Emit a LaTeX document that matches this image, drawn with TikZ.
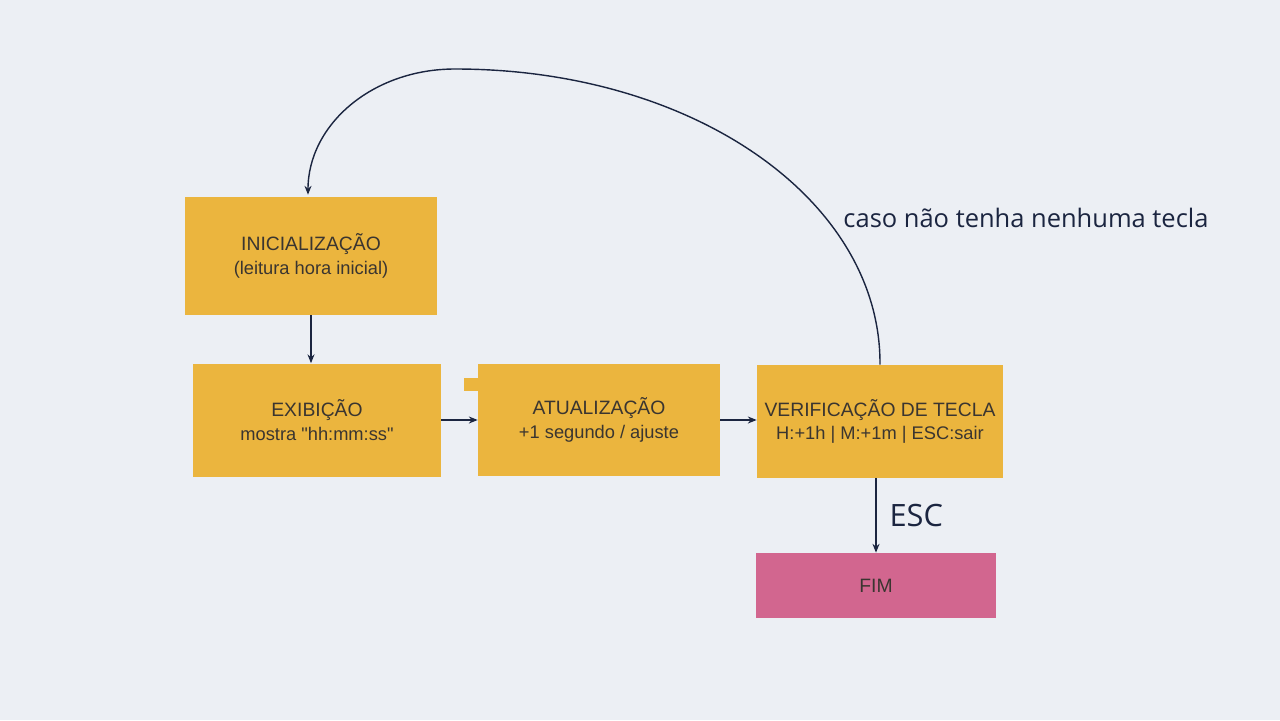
\documentclass[tikz,border=0pt]{standalone}
\usepackage{fontspec}
\setmainfont{Liberation Sans}
\newfontfamily\boxfont{Liberation Sans}
\newfontfamily\labelfont{Open Sans}
\usetikzlibrary{arrows.meta,calc}
\definecolor{bg}{HTML}{ECEFF4}
\definecolor{boxfill}{HTML}{EBB53E}
\definecolor{endfill}{HTML}{D2668F}
\definecolor{txt}{HTML}{3A3530}
\definecolor{wire}{HTML}{1B2540}
\tikzset{
  stepbox/.style={rectangle, fill=boxfill, draw=none, inner sep=0pt, align=center,
    text=txt, font=\boxfont\fontsize{11pt}{13.5pt}\selectfont},
  endbox/.style={stepbox, fill=endfill},
  conn/.style={draw=wire, line width=0.8pt, -{Stealth[length=5pt,width=4pt]}},
  lbl/.style={text=wire, font=\labelfont}
}
\newcommand{\subline}[1]{{\fontsize{10.4pt}{12.5pt}\selectfont #1}}
\begin{document}
\begin{tikzpicture}
\fill[bg] (0,0) rectangle (25.6,-14.4);
\useasboundingbox (0,0) rectangle (25.6,-14.4);

\node[stepbox, minimum width=5.04cm, minimum height=2.36cm] (init) at (6.22,-5.12)
  {INICIALIZAÇÃO\\\subline{(leitura hora inicial)}};
\node[stepbox, minimum width=4.96cm, minimum height=2.26cm] (exib) at (6.34,-8.40)
  {EXIBIÇÃO\\\subline{mostra "hh:mm:ss"}};
\node[stepbox, minimum width=4.84cm, minimum height=2.24cm] (atual) at (11.98,-8.40)
  {ATUALIZAÇÃO\\\subline{+1 segundo / ajuste}};
\node[stepbox, minimum width=4.92cm, minimum height=2.26cm] (verif) at (17.60,-8.43)
  {VERIFICAÇÃO DE TECLA\\\subline{H:+1h | M:+1m | ESC:sair}};
\node[endbox, minimum width=4.80cm, minimum height=1.30cm] (fim) at (17.52,-11.71) {FIM};

% small tab on the left of ATUALIZACAO
\fill[boxfill] (9.28,-7.56) rectangle (9.58,-7.82);

\draw[conn] (init.south) -- (init.south |- exib.north);
\draw[conn] (exib.east) -- (exib.east -| atual.west);
\draw[conn] (atual.east) -- (atual.east -| verif.west);
\draw[conn] (verif.south -| fim.north) -- node[lbl, right=4pt, pos=0.5, font=\labelfont\fontsize{17.5pt}{20pt}\selectfont] (esc) {ESC} (fim.north);

\coordinate (peak) at (9.1,-1.38);
\coordinate (initin) at ($(init.north)+(-0.06,0.04)$);
\draw[conn] (verif.north) .. controls (17.62,-4.02) and (13.9,-1.38) .. (peak)
  .. controls (7.44,-1.38) and (6.16,-2.50) .. (initin);

\node[lbl, font=\labelfont\fontsize{14.5pt}{17pt}\selectfont] (caso) at (20.52,-4.36) {caso não tenha nenhuma tecla};
\end{tikzpicture}
\end{document}
